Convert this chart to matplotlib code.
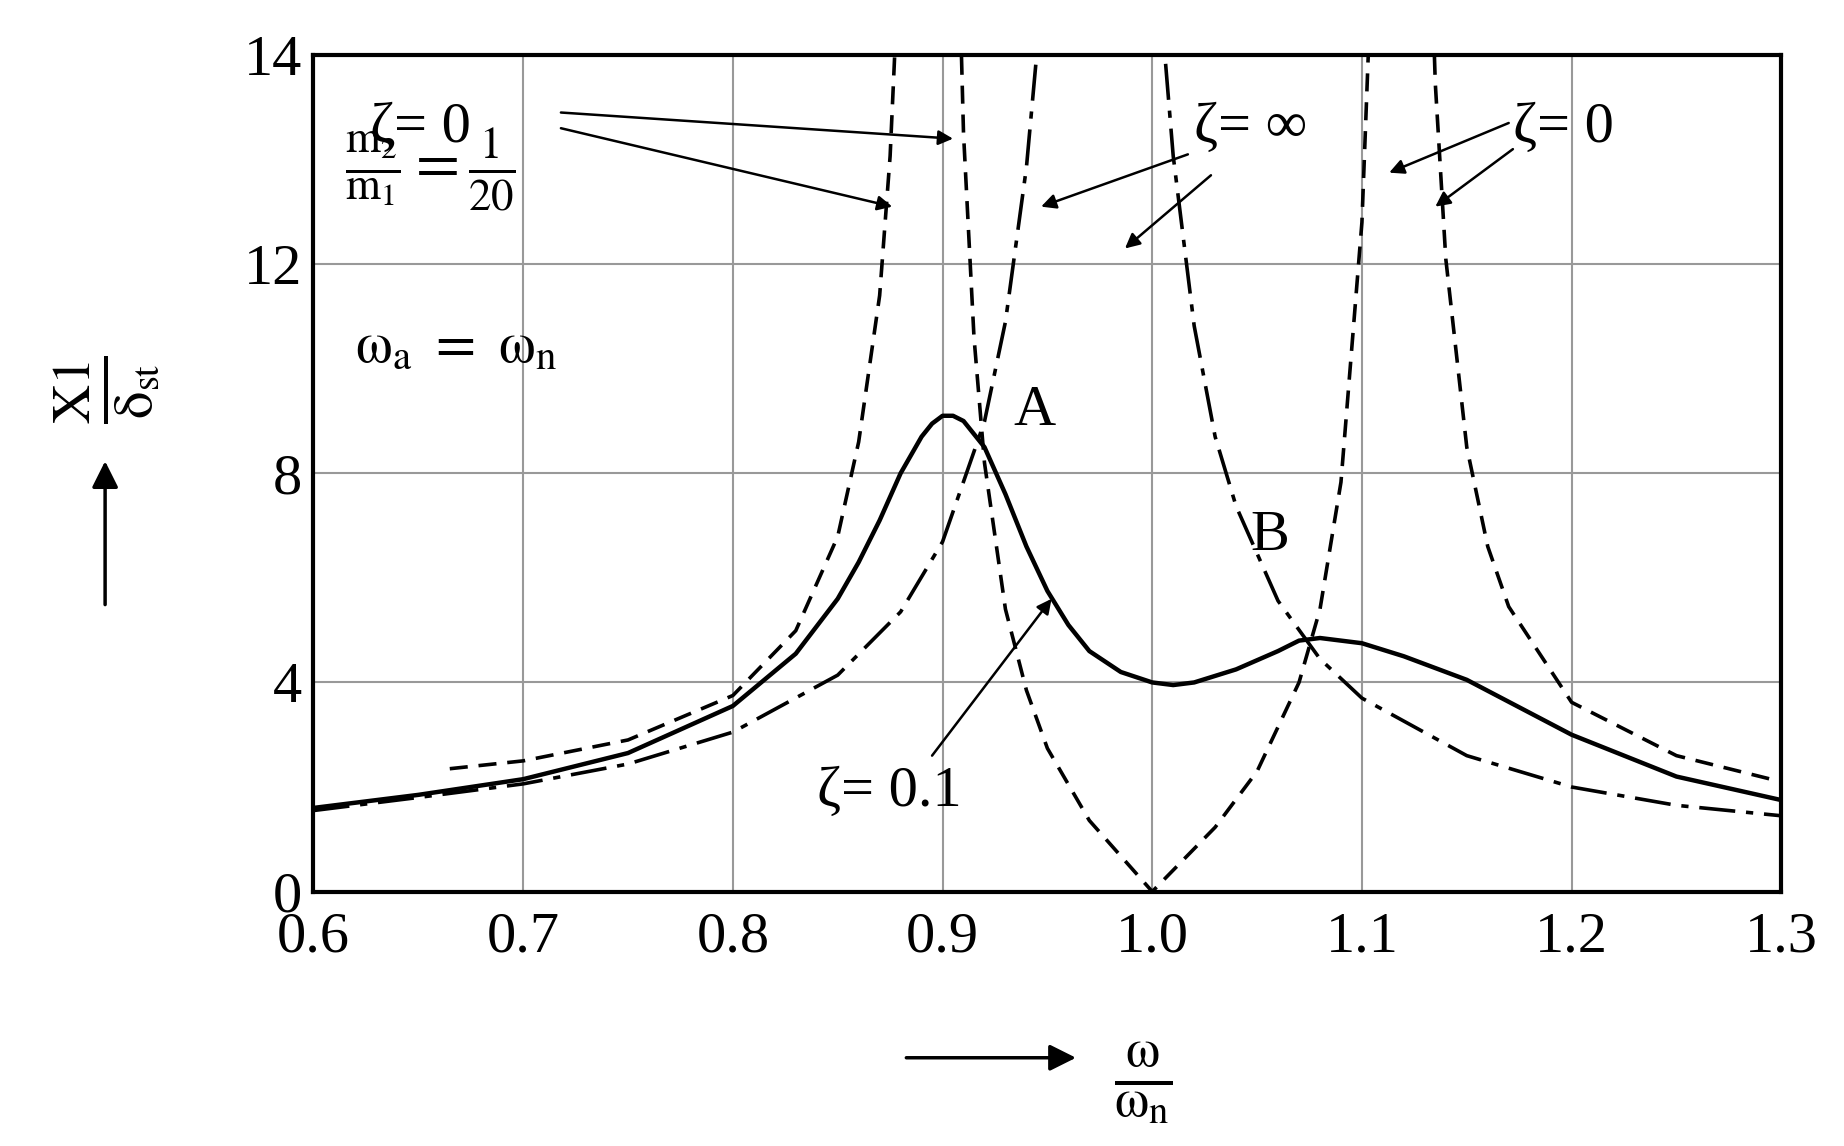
import numpy as np
import matplotlib.pyplot as plt
from matplotlib.patches import FancyArrowPatch

plt.rcParams['font.family'] = ['Liberation Serif', 'DejaVu Serif']
plt.rcParams['mathtext.fontset'] = 'stix'

# zeta = 0 (three branches)
z0_a_x = [0.665, 0.70, 0.75, 0.80, 0.83, 0.85, 0.86, 0.87, 0.875, 0.88, 0.885]
z0_a_y = [2.35, 2.5, 2.9, 3.75, 4.99, 6.79, 8.6, 11.4, 14.07, 18.5, 24.0]
z0_b_x = [0.902, 0.905, 0.91, 0.915, 0.92, 0.93, 0.94, 0.95, 0.97, 1.0, 1.03, 1.05, 1.07,
          1.08, 1.09, 1.10, 1.105, 1.11]
z0_b_y = [30.0, 22.1, 14.5, 10.6, 8.2, 5.40, 3.85, 2.74, 1.36, 0.0, 1.23, 2.30, 4.0,
          5.4, 7.83, 12.8, 18.1, 26.0]
z0_c_x = [1.126, 1.13, 1.135, 1.14, 1.15, 1.16, 1.17, 1.2, 1.25, 1.3]
z0_c_y = [30.0, 21.6, 15.45, 12.1, 8.5, 6.6, 5.45, 3.62, 2.6, 2.1]

# zeta = infinity
zi_a_x = [0.6, 0.65, 0.7, 0.75, 0.8, 0.85, 0.88, 0.9, 0.92, 0.93, 0.94, 0.945, 0.95]
zi_a_y = [1.55, 1.8, 2.06, 2.44, 3.05, 4.14, 5.35, 6.69, 8.99, 10.9, 13.85, 16.05, 19.0]
zi_b_x = [1.0, 1.005, 1.01, 1.02, 1.03, 1.04, 1.06, 1.08, 1.1, 1.15, 1.2, 1.25, 1.3]
zi_b_y = [20.0, 16.5, 14.07, 10.82, 8.7, 7.37, 5.56, 4.45, 3.70, 2.6, 2.0, 1.65, 1.45]

# zeta = 0.1
z1_x = [0.6, 0.65, 0.7, 0.75, 0.8, 0.83, 0.85, 0.86, 0.87, 0.88, 0.89, 0.895, 0.9, 0.905,
        0.91, 0.92, 0.93, 0.94, 0.95, 0.96, 0.97, 0.985, 1.0, 1.01, 1.02, 1.04, 1.06,
        1.07, 1.08, 1.1, 1.12, 1.15, 1.2, 1.25, 1.3]
z1_y = [1.6, 1.85, 2.15, 2.65, 3.55, 4.55, 5.6, 6.3, 7.1, 8.0, 8.7, 8.95, 9.1, 9.1,
        9.0, 8.5, 7.6, 6.6, 5.75, 5.1, 4.6, 4.2, 4.0, 3.95, 4.0, 4.25, 4.6,
        4.8, 4.85, 4.75, 4.5, 4.05, 3.0, 2.2, 1.75]

fig = plt.figure(figsize=(18.44, 11.46), dpi=100)
ax = fig.add_axes([0.170, 0.222, 0.796, 0.730])

kw_d = dict(color='black', lw=2.6, ls=(0, (5, 3)))
kw_dd = dict(color='black', lw=2.6, ls=(0, (10, 3, 2, 3)))
ax.plot(z0_a_x, z0_a_y, **kw_d)
ax.plot(z0_b_x, z0_b_y, **kw_d)
ax.plot(z0_c_x, z0_c_y, **kw_d)
ax.plot(zi_a_x, zi_a_y, **kw_dd)
ax.plot(zi_b_x, zi_b_y, **kw_dd)
ax.plot(z1_x, z1_y, color='black', lw=3.2)

ax.set_xlim(0.6, 1.3)
ax.set_ylim(0, 16)
ax.set_xticks(np.arange(0.6, 1.31, 0.1))
ax.set_xticklabels(['0.6', '0.7', '0.8', '0.9', '1.0', '1.1', '1.2', '1.3'])
ax.set_yticks([0, 4, 8, 12, 16])
ax.set_yticklabels(['0', '4', '8', '12', '14'])
ax.tick_params(labelsize=42, length=0)
ax.tick_params(axis='x', pad=14)
ax.tick_params(axis='y', pad=8)
ax.grid(True, color='#999999', lw=1.5)
for s in ax.spines.values():
    s.set_linewidth(3)

arr = dict(arrowstyle='-|>', color='black', lw=1.8, mutation_scale=22, shrinkA=0, shrinkB=0)
ax.text(0.627, 14.6, 'ζ= 0', fontsize=42, va='center')
ax.annotate('', xy=(0.876, 13.1), xytext=(0.718, 14.6), arrowprops=arr)
ax.annotate('', xy=(0.905, 14.4), xytext=(0.718, 14.9), arrowprops=arr)
ax.text(1.02, 14.6, 'ζ= ∞', fontsize=42, va='center')
ax.annotate('', xy=(0.947, 13.1), xytext=(1.017, 14.1), arrowprops=arr)
ax.annotate('', xy=(0.987, 12.3), xytext=(1.028, 13.7), arrowprops=arr)
ax.text(1.172, 14.6, 'ζ= 0', fontsize=42, va='center')
ax.annotate('', xy=(1.113, 13.75), xytext=(1.17, 14.7), arrowprops=arr)
ax.annotate('', xy=(1.135, 13.1), xytext=(1.172, 14.2), arrowprops=arr)
ax.text(0.84, 1.9, 'ζ= 0.1', fontsize=42, va='center')
ax.annotate('', xy=(0.952, 5.6), xytext=(0.895, 2.6), arrowprops=arr)
ax.text(0.934, 9.2, 'A', fontsize=42, va='center')
ax.text(1.047, 6.8, 'B', fontsize=42, va='center')
ax.text(0.615, 13.8, r'$\frac{\mathrm{m_2}}{\mathrm{m_1}}=\frac{1}{20}$', fontsize=46,
        va='center')
ax.text(0.62, 10.4, r'$\mathrm{\omega_a\ =\ \omega_n}$', fontsize=42, va='center')

fig.text(0.058, 0.66, r'$\frac{\mathrm{X1}}{\mathrm{\delta_{st}}}$', fontsize=56,
         rotation=90, ha='center', va='center')
fig.text(0.62, 0.055, r'$\frac{\mathrm{\omega}}{\mathrm{\omega_n}}$', fontsize=56,
         ha='center', va='center')
fig.patches.append(FancyArrowPatch(
    (0.057, 0.47), (0.057, 0.60), transform=fig.transFigure, arrowstyle='-|>',
    mutation_scale=40, lw=2.5, color='black'))
fig.patches.append(FancyArrowPatch(
    (0.49, 0.077), (0.585, 0.077), transform=fig.transFigure, arrowstyle='-|>',
    mutation_scale=40, lw=2.5, color='black'))

fig.savefig('out.png', dpi=100)
